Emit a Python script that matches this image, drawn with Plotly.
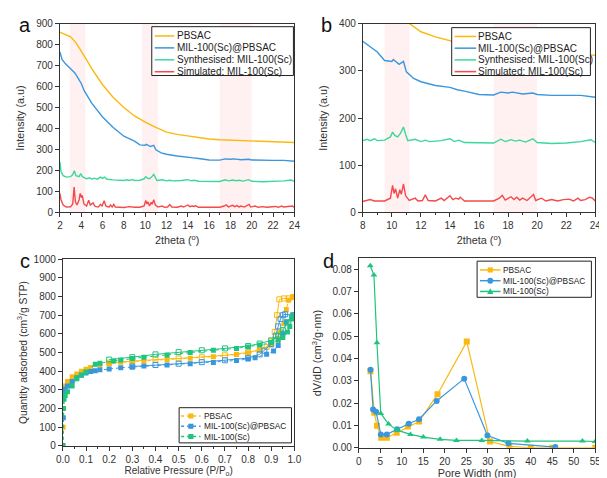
import plotly.graph_objects as go

# ---------------- Data ----------------
# XRD (panels a and b share the same patterns)
pbsac_x = [2, 2.5, 3, 3.5, 4, 4.5, 5, 6, 7, 8, 9, 10, 11, 12, 13, 14, 15, 16, 17, 18, 19, 20, 21, 22, 23, 24]
pbsac_y = [860, 850, 838, 810, 772, 728, 685, 609, 548, 500, 460, 430, 405, 383, 372, 364, 356, 350, 346, 344, 343, 342, 341, 339, 336, 333]

mil_pb_x = [2, 2.2, 2.5, 3, 3.4, 3.7, 4, 4.3, 5, 6, 7, 8, 9, 9.5, 10, 10.1, 10.5, 10.8, 11, 11.5, 12, 13, 14, 14.5, 15, 16, 17, 17.5, 18, 18.3, 19, 19.7, 20, 21, 22, 23, 24]
mil_pb_y = [765, 730, 710, 685, 665, 640, 615, 578, 520, 455, 405, 363, 340, 322, 320, 324, 314, 320, 298, 284, 277, 269, 265, 260, 257, 250, 249, 255, 253, 255, 251, 253, 250, 248, 248, 248, 244]

syn_x = [2, 2.1, 2.3, 2.6, 3, 3.2, 3.35, 3.5, 3.8, 3.95, 4.1, 4.5, 4.8, 5, 5.2, 5.5, 5.8, 6, 6.2, 6.4, 7, 8, 8.3, 8.5, 8.8, 9, 9.5, 9.9, 10.05, 10.2, 10.4, 10.6, 10.8, 10.95, 11.1, 11.6, 12, 12.3, 12.6, 13.4, 14, 14.3, 14.6, 15, 16, 17, 17.5, 17.8, 18.2, 18.5, 18.8, 19.2, 19.7, 20, 21, 22, 23, 23.7, 24]
syn_y = [240, 195, 175, 168, 170, 180, 198, 175, 170, 185, 170, 160, 165, 158, 163, 158, 168, 162, 168, 158, 155, 152, 155, 152, 156, 152, 153, 160, 170, 163, 160, 168, 181, 165, 152, 155, 150, 153, 150, 152, 156, 150, 153, 148, 147, 147, 155, 150, 154, 151, 153, 149, 156, 148, 146, 147, 150, 154, 148]

sim_x = [2, 2.1, 2.3, 2.6, 3, 3.2, 3.33, 3.45, 3.6, 3.8, 3.9, 4.0, 4.1, 4.25, 4.5, 4.7, 4.85, 5.1, 5.3, 5.6, 5.8, 5.95, 6.15, 6.3, 6.6, 6.75, 6.9, 7.05, 7.2, 8, 8.5, 8.8, 9, 9.5, 9.9, 10.05, 10.15, 10.25, 10.4, 10.55, 10.65, 10.8, 10.95, 11.2, 11.6, 11.8, 12.1, 12.3, 12.5, 13, 13.4, 13.6, 14, 14.2, 14.4, 14.6, 14.7, 15, 16, 17, 17.4, 17.6, 17.8, 18.2, 18.4, 18.6, 18.8, 19, 19.3, 19.75, 19.9, 20.3, 20.6, 21, 21.4, 21.8, 22.2, 22.5, 22.8, 23, 23.3, 23.6, 23.8, 24]
sim_y = [90, 60, 35, 25, 26, 40, 120, 50, 35, 60, 90, 75, 80, 40, 30, 58, 35, 45, 28, 25, 38, 30, 55, 30, 25, 35, 25, 38, 25, 23, 27, 24, 24, 24, 30, 57, 40, 50, 30, 48, 38, 60, 35, 25, 30, 24, 25, 37, 25, 24, 30, 25, 35, 27, 30, 28, 32, 24, 24, 24, 30, 36, 26, 33, 27, 32, 26, 30, 25, 38, 25, 30, 24, 27, 24, 27, 28, 24, 30, 25, 27, 32, 30, 24]

xrd_names = ["PBSAC", "MIL-100(Sc)@PBSAC", "Synthesised: MIL-100(Sc)", "Simulated: MIL-100(Sc)"]

# Highlighted regions (2theta)
bands_a = [(2.9, 4.4), (9.7, 11.2), (17.0, 20.0)]
bands_b = [(9.5, 11.2), (17.0, 20.0)]

# N2 isotherms (panel c)
pb_ads_p = [0.0, 0.001, 0.003, 0.005, 0.01, 0.02, 0.04, 0.06, 0.08, 0.1, 0.12, 0.16, 0.2, 0.25, 0.3, 0.35, 0.45, 0.55, 0.65, 0.75, 0.8, 0.85, 0.9, 0.93, 0.94, 0.955, 0.965, 0.975, 0.995]
pb_ads_q = [0, 100, 200, 280, 320, 345, 370, 385, 400, 410, 420, 435, 440, 448, 452, 455, 462, 469, 477, 489, 497, 512, 540, 575, 610, 655, 730, 780, 797]
pb_des_p = [0.995, 0.975, 0.955, 0.935, 0.925, 0.915, 0.9, 0.88, 0.85, 0.8, 0.7, 0.6, 0.5, 0.4, 0.3, 0.2]
pb_des_q = [797, 790, 790, 785, 700, 610, 560, 530, 515, 500, 485, 475, 468, 462, 455, 445]

mp_ads_p = [0.0, 0.002, 0.005, 0.01, 0.02, 0.04, 0.06, 0.08, 0.1, 0.12, 0.14, 0.16, 0.2, 0.25, 0.3, 0.35, 0.45, 0.55, 0.65, 0.75, 0.8, 0.83, 0.88, 0.91, 0.93, 0.95, 0.965, 0.995]
mp_ads_q = [0, 150, 290, 305, 320, 345, 365, 378, 390, 398, 402, 407, 412, 418, 422, 427, 433, 440, 447, 457, 465, 472, 490, 508, 538, 600, 665, 700]
mp_des_p = [0.995, 0.96, 0.95, 0.94, 0.93, 0.92, 0.9, 0.87, 0.85, 0.8, 0.7, 0.6, 0.5, 0.4, 0.3]
mp_des_q = [700, 705, 700, 680, 640, 590, 545, 510, 490, 470, 458, 448, 440, 433, 425]

mil_ads_p = [0.0, 0.002, 0.005, 0.01, 0.02, 0.04, 0.06, 0.08, 0.1, 0.14, 0.16, 0.22, 0.25, 0.3, 0.35, 0.45, 0.55, 0.65, 0.75, 0.8, 0.85, 0.9, 0.93, 0.95, 0.97, 0.98, 0.99, 1.0]
mil_ads_q = [0, 200, 250, 270, 290, 320, 360, 380, 395, 437, 443, 455, 460, 468, 475, 487, 500, 512, 522, 530, 540, 553, 565, 580, 610, 640, 680, 695]
mil_des_p = [1.0, 0.99, 0.97, 0.95, 0.93, 0.9, 0.85, 0.8, 0.7, 0.6, 0.5, 0.4, 0.3, 0.2]
mil_des_q = [695, 690, 660, 620, 590, 565, 548, 535, 522, 512, 502, 490, 475, 462]

iso_names = ["PBSAC", "MIL-100(Sc)@PBSAC", "MIL-100(Sc)"]

# Pore size distributions (panel d)
psd_pb_w = [2.7, 3.6, 4.2, 5.2, 6.5, 8.8, 11.4, 14.0, 18.3, 25.1, 30.5, 35.0, 40.0, 45.0, 55.0]
psd_pb_v = [0.0343, 0.0157, 0.0099, 0.0045, 0.0045, 0.0067, 0.0095, 0.0118, 0.024, 0.0476, 0.0028, 0.0006, 0.0, 0.0, 0.0]
psd_mp_w = [2.7, 3.3, 4.0, 5.1, 6.5, 8.9, 11.6, 14.0, 18.1, 24.5, 29.9, 34.8, 45.7]
psd_mp_v = [0.035, 0.0172, 0.0161, 0.006, 0.006, 0.0083, 0.0108, 0.0128, 0.021, 0.031, 0.0055, 0.002, 0.0003]
psd_mil_w = [2.65, 3.5, 4.2, 5.1, 6.9, 8.9, 12.0, 15.0, 18.9, 22.7, 28.6, 39.2, 52.0, 55.0]
psd_mil_v = [0.0816, 0.0775, 0.0471, 0.0154, 0.0106, 0.0079, 0.006, 0.0048, 0.0038, 0.0033, 0.0033, 0.003, 0.003, 0.0028]

# ---------------- Styles ----------------
YEL = "#F9B90F"
BLU = "#3A97DE"
GRN = "#3AD99B"
RED = "#F5494B"
GRN_C = "#1FC47F"
FONT = "Liberation Sans"
AX = "#333333"
W, H = 607, 478

def PX(x):
    return x / W

def PY(y):
    return (H - y) / H

def px_dom_x(a, b):
    return [PX(a), PX(b)]

def px_dom_y(top, bottom):
    return [PY(bottom), PY(top)]

fig = go.Figure()
xrd_series = [(pbsac_x, pbsac_y, YEL), (mil_pb_x, mil_pb_y, BLU), (syn_x, syn_y, GRN), (sim_x, sim_y, RED)]

# Panels a and b
for (x, y, c), n in zip(xrd_series, xrd_names):
    fig.add_trace(go.Scatter(x=x, y=y, mode="lines", line=dict(color=c, width=1.4), name=n,
                             xaxis="x", yaxis="y", showlegend=False))
    fig.add_trace(go.Scatter(x=x, y=y, mode="lines", line=dict(color=c, width=1.4), name=n,
                             xaxis="x2", yaxis="y2", showlegend=False))
# Panel c
iso_series = [(pb_ads_p, pb_ads_q, pb_des_p, pb_des_q, YEL),
              (mp_ads_p, mp_ads_q, mp_des_p, mp_des_q, BLU),
              (mil_ads_p, mil_ads_q, mil_des_p, mil_des_q, GRN_C)]
for (ap, aq, dp, dq, c), n in zip(iso_series, iso_names):
    fig.add_trace(go.Scatter(x=ap, y=aq, mode="lines+markers", name=n, showlegend=False,
                             line=dict(color=c, width=1, dash="dot"),
                             marker=dict(symbol="square", size=5, color=c),
                             xaxis="x3", yaxis="y3"))
    fig.add_trace(go.Scatter(x=dp, y=dq, mode="lines+markers", name=n + " desorption", showlegend=False,
                             line=dict(color=c, width=1),
                             marker=dict(symbol="square-open", size=5, color=c),
                             xaxis="x3", yaxis="y3"))
# Panel d
psd_series = [(psd_pb_w, psd_pb_v, YEL, "square"),
              (psd_mp_w, psd_mp_v, BLU, "circle"),
              (psd_mil_w, psd_mil_v, GRN_C, "triangle-up")]
for (w, v, c, s), n in zip(psd_series, iso_names):
    fig.add_trace(go.Scatter(x=w, y=v, mode="lines+markers", name=n, showlegend=False,
                             line=dict(color=c, width=1.2),
                             marker=dict(symbol=s, size=6, color=c),
                             xaxis="x4", yaxis="y4"))

shapes = []
for a, b in bands_a:
    shapes.append(dict(type="rect", xref="x", yref="y domain", x0=a, x1=b, y0=0, y1=1,
                       fillcolor="rgba(255,190,190,0.22)", line=dict(width=0), layer="below"))
for a, b in bands_b:
    shapes.append(dict(type="rect", xref="x2", yref="y2 domain", x0=a, x1=b, y0=0, y1=1,
                       fillcolor="rgba(255,190,190,0.22)", line=dict(width=0), layer="below"))

annotations = []

# ---- compact legends (box + sample line + optional marker + label) ----
def legend_box(x0, y0, x1, y1, rows, lx0, lx1, tx, fsize, marker=None, dash="solid"):
    shapes.append(dict(type="rect", xref="paper", yref="paper", x0=PX(x0), x1=PX(x1), y0=PY(y1), y1=PY(y0),
                       fillcolor="white", line=dict(color="#222222", width=1), layer="above"))
    for (yy, c, label, sym) in rows:
        shapes.append(dict(type="line", xref="paper", yref="paper", x0=PX(lx0), x1=PX(lx1), y0=PY(yy), y1=PY(yy),
                           line=dict(color=c, width=1.5, dash=dash), layer="above"))
        if sym:
            mx = (lx0 + lx1) / 2
            r = 2.6
            if sym == "square":
                shapes.append(dict(type="rect", xref="paper", yref="paper", x0=PX(mx - r), x1=PX(mx + r),
                                   y0=PY(yy + r), y1=PY(yy - r), fillcolor=c, line=dict(width=0), layer="above"))
            elif sym == "circle":
                shapes.append(dict(type="circle", xref="paper", yref="paper", x0=PX(mx - r - 0.4), x1=PX(mx + r + 0.4),
                                   y0=PY(yy + r + 0.4), y1=PY(yy - r - 0.4), fillcolor=c, line=dict(width=0), layer="above"))
            elif sym == "triangle":
                path = "M {} {} L {} {} L {} {} Z".format(PX(mx), PY(yy - 3.2), PX(mx - 3.2), PY(yy + 2.6),
                                                        PX(mx + 3.2), PY(yy + 2.6))
                shapes.append(dict(type="path", xref="paper", yref="paper", path=path, fillcolor=c,
                                   line=dict(width=0), layer="above"))
        annotations.append(dict(text=label, x=PX(tx), y=PY(yy), xref="paper", yref="paper",
                                xanchor="left", yanchor="middle", showarrow=False, borderpad=0,
                                font=dict(family=FONT, size=fsize, color="#222222")))

xrd_cols = [YEL, BLU, GRN, RED]
legend_box(140, 14, 285, 64, [(23.5 + 12.2 * i, xrd_cols[i], xrd_names[i], None) for i in range(4)],
           143, 163, 165, 10)
legend_box(447, 15, 589, 64, [(24 + 12 * i, xrd_cols[i], xrd_names[i], None) for i in range(4)],
           450, 472, 473, 10)
iso_cols = [YEL, BLU, GRN_C]
legend_box(168, 404, 283, 440, [(412.5 + 10.5 * i, iso_cols[i], iso_names[i], "square") for i in range(3)],
           170, 190, 192, 8.3, dash="dot")
syms = ["square", "circle", "triangle"]
legend_box(473, 254, 590, 291, [(263 + 11 * i, iso_cols[i], iso_names[i], syms[i]) for i in range(3)],
           476, 497, 498, 8.3)

tickfont = dict(family=FONT, size=10, color=AX)

def titlefont(s=10.8):
    return dict(family=FONT, size=s, color=AX)

def xax(dom, anchor, rng, dtick, title, fmt=None, minor=None, standoff=4, ts=10.8):
    d = dict(domain=dom, anchor=anchor, range=rng, dtick=dtick, tick0=0,
             showline=True, linecolor=AX, linewidth=1, mirror=True, ticks="outside", ticklen=4,
             tickcolor=AX, showgrid=False, zeroline=False, tickfont=tickfont,
             title=dict(text=title, font=titlefont(ts), standoff=standoff))
    if fmt:
        d["tickformat"] = fmt
    if minor:
        d["minor"] = dict(dtick=minor, ticks="outside", ticklen=2, tickcolor=AX, showgrid=False)
    return d

def yax(dom, anchor, rng, dtick, title, fmt=None, standoff=4, ts=10.8):
    d = dict(domain=dom, anchor=anchor, range=rng, dtick=dtick, tick0=0,
             showline=True, linecolor=AX, linewidth=1, mirror=True, ticks="outside", ticklen=4,
             tickcolor=AX, showgrid=False, zeroline=False, tickfont=tickfont,
             title=dict(text=title, font=titlefont(ts), standoff=standoff))
    if fmt:
        d["tickformat"] = fmt
    return d

for txt, x, y in [("a", 3, 0), ("b", 312, 0), ("c", 4, 242), ("d", 314, 242)]:
    annotations.append(dict(text=txt, x=PX(x), y=PY(y), xref="paper", yref="paper",
                            xanchor="left", yanchor="top", showarrow=False, borderpad=0,
                            font=dict(family=FONT, size=20, color="#111111")))

fig.update_layout(
    width=W, height=H, margin=dict(l=0, r=0, t=0, b=0),
    paper_bgcolor="white", plot_bgcolor="white", showlegend=False,
    xaxis=xax(px_dom_x(46, 286), "y", [2, 24], 2, "2theta (<sup>o</sup>)", minor=1, standoff=6),
    yaxis=yax(px_dom_y(11, 204), "x", [0, 900], 100, "Intensity (a.u)", standoff=9),
    xaxis2=xax(px_dom_x(356, 594), "y2", [8, 24], 2, "2theta (<sup>o</sup>)", minor=1, standoff=6),
    yaxis2=yax(px_dom_y(11, 204), "x2", [0, 400], 100, "Intensity (a.u)", standoff=9),
    xaxis3=xax(px_dom_x(49, 286), "y3", [0, 1], 0.1, "Relative Pressure (P/P<sub>o</sub>)", fmt=".1f",
               minor=0.05, standoff=1, ts=10),
    yaxis3=yax(px_dom_y(252, 443), "x3", [0, 1000], 100, "Quantity adsorbed (cm<sup>3</sup>/g STP)",
               standoff=4, ts=10.3),
    xaxis4=xax(px_dom_x(352, 594), "y4", [0, 55], 5, "Pore Width (nm)", standoff=2),
    yaxis4=yax(px_dom_y(251, 445), "x4", [0, 0.085], 0.01, "dV/dD (cm<sup>3</sup>/g·nm)", fmt=".2f", standoff=8),
    shapes=shapes,
    annotations=annotations,
)

fig.write_html("out.html")
